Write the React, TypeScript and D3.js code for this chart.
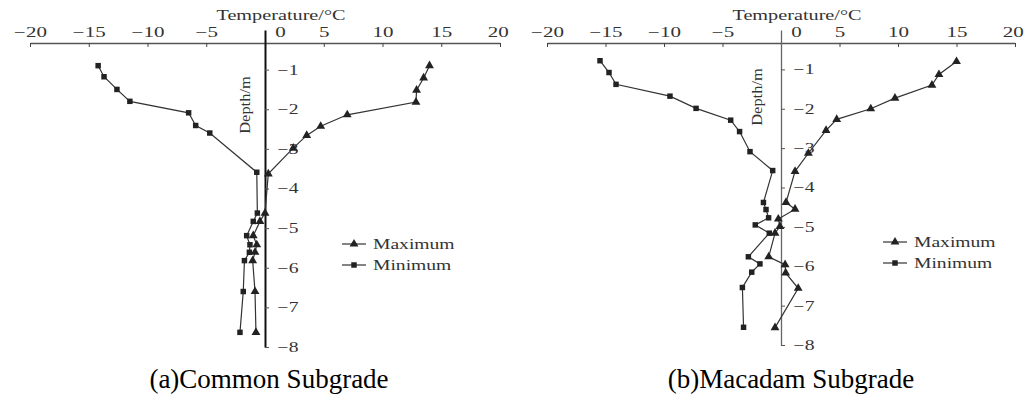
import React from "react";
import * as d3 from "d3";

const tempTicks = [-20, -15, -10, -5, 0, 5, 10, 15, 20];
const depthTicks = [-1, -2, -3, -4, -5, -6, -7, -8];
const legendNames = ["Maximum", "Minimum"];

// (a) common subgrade
const commonMaxDepth = [-0.9, -1.21, -1.52, -1.82, -2.14, -2.43, -2.66, -2.98, -3.63, -4.62, -4.83, -5.19, -5.42, -5.61, -5.82, -6.6, -7.63];
const commonMaxTemp = [14.0, 13.5, 12.9, 12.85, 7.0, 4.74, 3.55, 2.4, 0.28, 0, -0.43, -1.0, -0.7, -0.85, -1.05, -0.85, -0.77];
const commonMinDepth = [-0.9, -1.18, -1.5, -1.8, -2.09, -2.41, -2.6, -3.59, -4.62, -4.83, -5.19, -5.42, -5.61, -5.82, -6.6, -7.63];
const commonMinTemp = [-14.2, -13.7, -12.6, -11.5, -6.5, -5.9, -4.7, -0.7, -0.65, -1.0, -1.56, -1.28, -1.33, -1.75, -1.85, -2.13];

// (b) macadam subgrade
const macadamMaxDepth = [-0.8, -1.13, -1.4, -1.73, -2.0, -2.27, -2.55, -3.13, -3.59, -4.38, -4.55, -4.8, -4.99, -5.16, -5.76, -5.96, -6.17, -6.56, -7.56];
const macadamMaxTemp = [15.0, 13.5, 12.9, 9.74, 7.67, 4.76, 3.85, 2.34, 1.2, 0.43, 1.2, -0.23, -0.09, -0.51, -1.05, 0.35, 0.4, 1.47, -0.51];
const macadamMinDepth = [-0.78, -1.08, -1.38, -1.68, -1.99, -2.29, -2.58, -3.09, -3.57, -4.38, -4.56, -4.77, -4.95, -5.16, -5.76, -5.94, -6.15, -6.54, -7.55];
const macadamMinTemp = [-15.47, -14.7, -14.1, -9.49, -7.26, -4.3, -3.54, -2.65, -0.71, -1.5, -1.28, -1.06, -2.2, -1.0, -2.79, -1.8, -2.5, -3.3, -3.2];

const serif = "'Liberation Serif', 'Times New Roman', serif";
const stretch = "scale(1.4,1)";

const zip = (depths, temps) => depths.map((d, i) => ({ d, t: temps[i] }));

const panels = [
  {
    left: 30, right: 500, top: 30, bottom: 347, axisY: 43,
    axisColor: "#111", axisWidth: 2, depthLabel: [245, 105], legend: [354, 244],
    caption: "(a)Common Subgrade", captionX: 269,
    max: zip(commonMaxDepth, commonMaxTemp), min: zip(commonMinDepth, commonMinTemp),
  },
  {
    left: 547, right: 1015, top: 30, bottom: 345, axisY: 43,
    axisColor: "#666", axisWidth: 1.3, depthLabel: [757, 97], legend: [895, 242],
    caption: "(b)Macadam Subgrade", captionX: 791,
    max: zip(macadamMaxDepth, macadamMaxTemp), min: zip(macadamMinDepth, macadamMinTemp),
  },
];

const drawPanel = (svg, p) => {
  const g = svg.append("g");
  const x = d3.scaleLinear([-20, 20], [p.left, p.right]);
  const y = d3.scaleLinear([0, -8], [p.top, p.bottom]);

  // top temperature axis
  const xAxis = g.append("g")
    .attr("transform", `translate(0,${p.axisY})`)
    .call(d3.axisTop(x).tickValues(tempTicks).tickSizeInner(-4).tickSizeOuter(0).tickPadding(6));
  xAxis.select(".domain").attr("stroke", "#555").attr("stroke-width", 1.3);
  xAxis.selectAll("line").attr("stroke", "#444");
  xAxis.selectAll("text")
    .attr("font-family", serif).attr("font-size", 14).attr("fill", "#333")
    .attr("x", d => (d === 0 ? 10 : d === 20 ? -1.5 : 0))
    .attr("transform", "scale(1.5,1)");

  g.append("text")
    .attr("transform", `translate(${x(0) + 16},20) scale(1.35,1)`)
    .attr("text-anchor", "middle").attr("font-family", serif).attr("font-size", 15).attr("fill", "#333")
    .text("Temperature/°C");

  // depth axis at T = 0
  const yAxis = g.append("g")
    .attr("transform", `translate(${x(0)},0)`)
    .call(d3.axisRight(y).tickValues(depthTicks).tickSizeInner(4).tickSizeOuter(0).tickPadding(5));
  yAxis.select(".domain").attr("stroke", p.axisColor).attr("stroke-width", p.axisWidth);
  yAxis.selectAll("line").attr("stroke", "#555");
  yAxis.selectAll("text")
    .attr("font-family", serif).attr("font-size", 14).attr("fill", "#333")
    .attr("transform", stretch);

  g.append("text")
    .attr("transform", `translate(${p.depthLabel[0]},${p.depthLabel[1]}) rotate(-90) scale(1.1,1)`)
    .attr("text-anchor", "middle").attr("dominant-baseline", "central")
    .attr("font-family", serif).attr("font-size", 15).attr("fill", "#333")
    .text("Depth/m");

  // profiles
  const line = d3.line().x(d => x(d.t)).y(d => y(d.d));
  const series = [
    { data: p.max, symbol: d3.symbol(d3.symbolTriangle, 34) },
    { data: p.min, symbol: d3.symbol(d3.symbolSquare, 30) },
  ];
  series.forEach(s => {
    g.append("path").attr("d", line(s.data)).attr("fill", "none").attr("stroke", "#333").attr("stroke-width", 1.2);
    g.selectAll()
      .data(s.data)
      .join("path")
        .attr("d", s.symbol)
        .attr("transform", d => `translate(${x(d.t)},${y(d.d)})`)
        .attr("fill", "#222");
  });

  // legend
  series.forEach((s, i) => {
    const ly = p.legend[1] + i * 21;
    g.append("line")
      .attr("x1", p.legend[0] - 12).attr("x2", p.legend[0] + 12)
      .attr("y1", ly).attr("y2", ly)
      .attr("stroke", "#333").attr("stroke-width", 1.2);
    g.append("path").attr("d", s.symbol()).attr("transform", `translate(${p.legend[0]},${ly})`).attr("fill", "#222");
    g.append("text")
      .attr("transform", `translate(${p.legend[0] + 19},${ly}) ${stretch}`)
      .attr("dominant-baseline", "central")
      .attr("font-family", serif).attr("font-size", 14).attr("fill", "#333")
      .text(legendNames[i]);
  });

  g.append("text")
    .attr("x", p.captionX).attr("y", 388)
    .attr("text-anchor", "middle").attr("font-family", serif).attr("font-size", 27).attr("fill", "#000")
    .text(p.caption);
};

const App = () => {
  const ref = React.useRef(null);

  React.useEffect(() => {
    const svg = d3.select(ref.current);
    svg.selectAll("*").remove();
    panels.forEach(p => drawPanel(svg, p));
  }, []);

  return (
    <svg
      ref={ref}
      width={1024}
      height={396}
      style={{ position: "absolute", left: 0, top: 0, background: "#fff" }}
    />
  );
};

export default App;
